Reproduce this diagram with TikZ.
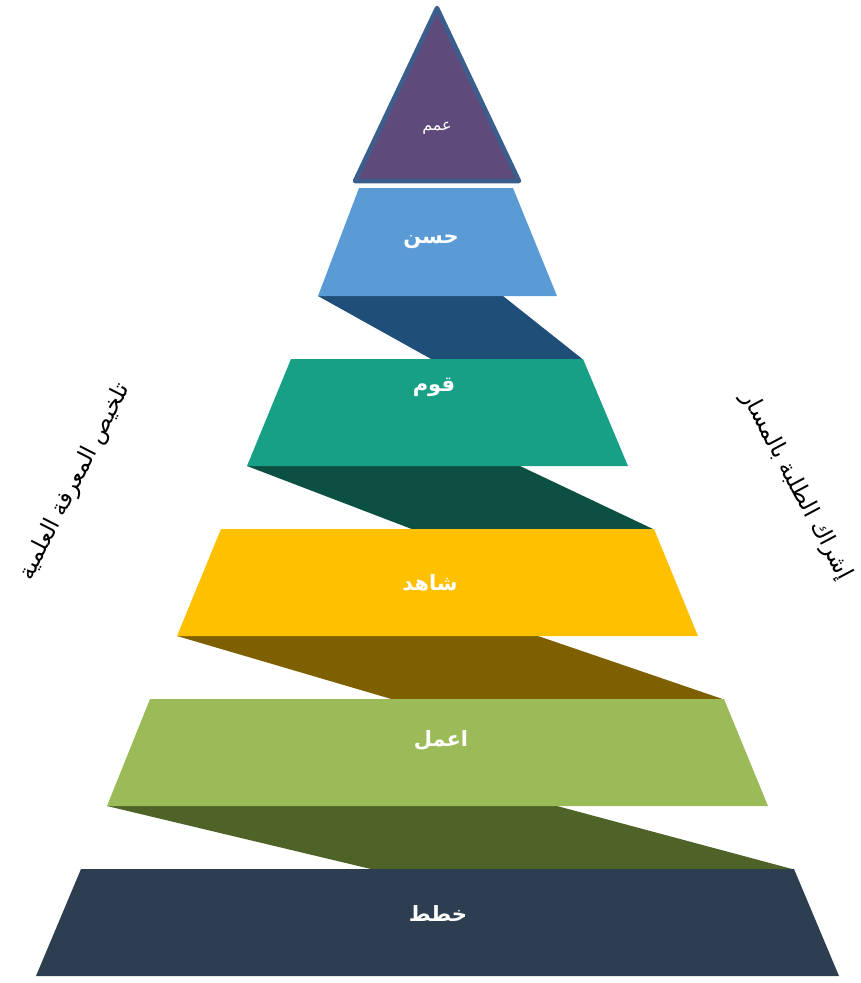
\documentclass[tikz,border=0pt]{standalone}
\usepackage{fontspec}
\newfontfamily\arabicfont[Script=Arabic]{DejaVu Sans}
\TeXXeTstate=1
\definecolor{cTop}{HTML}{5F4B7B}
\definecolor{cTopLine}{HTML}{3B5E8C}
\definecolor{cL2}{HTML}{5B9BD5}
\definecolor{cR1}{HTML}{1F4E79}
\definecolor{cL3}{HTML}{17A086}
\definecolor{cR2}{HTML}{0C5044}
\definecolor{cL4}{HTML}{FFC000}
\definecolor{cR3}{HTML}{7F6000}
\definecolor{cL5}{HTML}{9BBB59}
\definecolor{cR4}{HTML}{4F6228}
\definecolor{cL6}{HTML}{2C3E50}
\tikzset{
  lbl/.style={text=white, font=\arabicfont\bfseries\fontsize{21}{24}\selectfont, inner sep=0pt},
  toplbl/.style={text=white, font=\arabicfont\fontsize{16}{19}\selectfont, inner sep=0pt},
  side/.style={text=black, font=\arabicfont\fontsize{23}{26}\selectfont, inner sep=0pt},
}
\begin{document}
\begin{tikzpicture}[x=1pt,y=-1pt]
\useasboundingbox (0,0) rectangle (861,983);
% ribbons
\fill[cR1] (318,296) -- (503,296) -- (583,359.5) -- (432,359.5) -- cycle;
\fill[cR2] (247,466) -- (520,466) -- (654,529.5) -- (413,529.5) -- cycle;
\fill[cR3] (177,636) -- (538,636) -- (724,699.5) -- (393,699.5) -- cycle;
\fill[cR4] (107,806) -- (557,806) -- (794,869.5) -- (373,869.5) -- cycle;
% layers
\fill[cL2] (359,188) -- (513,188) -- (557,296) -- (318,296) -- cycle;
\fill[cL3] (291,359) -- (583,359) -- (628,466) -- (247,466) -- cycle;
\fill[cL4] (221,529) -- (654,529) -- (698,636) -- (177,636) -- cycle;
\fill[cL5] (150,699) -- (724,699) -- (768,806) -- (107,806) -- cycle;
\fill[cL6] (81,869) -- (794,869) -- (839,976) -- (36,976) -- cycle;
% top triangle
\filldraw[fill=cTop, draw=cTopLine, line width=4.5pt, line join=round]
  (437,8) -- (519,181) -- (355,181) -- cycle;
% labels
\node[toplbl] (t1) at (437,128) {\beginR عمم\endR};
\node[lbl] (t2) at (431,242) {\beginR حسن\endR};
\node[lbl] (t3) at (434,387) {\beginR قوم\endR};
\node[lbl] (t4) at (430,583) {\beginR شاهد\endR};
\node[lbl] (t5) at (441,740) {\beginR اعمل\endR};
\node[lbl] (t6) at (438,914) {\beginR خطط\endR};
% side texts
\node[side, rotate=63] (sl) at (75,482) {\beginR تلخيص المعرفة العلمية\endR};
\node[side, rotate=-62] (sr) at (796,486) {\beginR إشراك الطلبة بالمسار\endR};
\end{tikzpicture}
\end{document}
